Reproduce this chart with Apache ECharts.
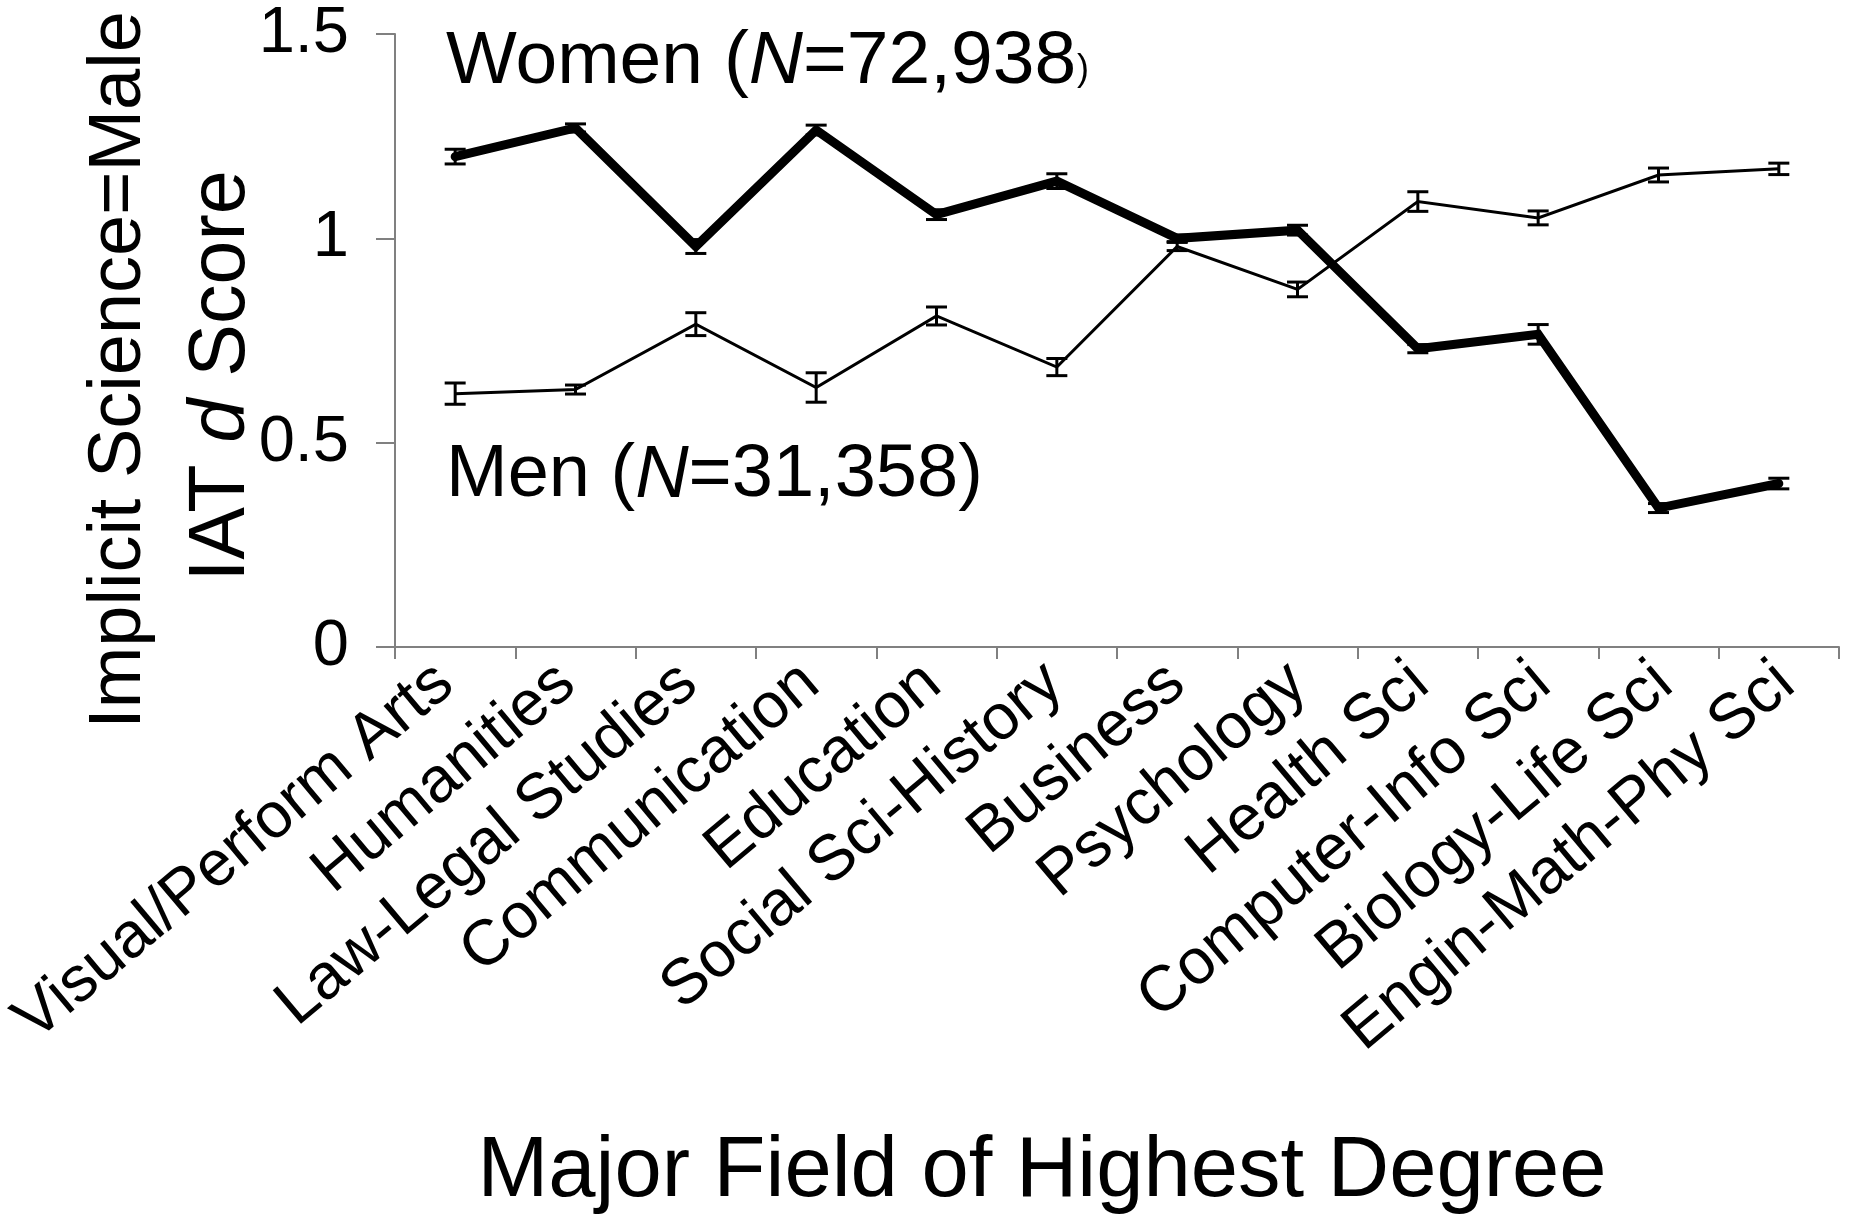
<!DOCTYPE html>
<html><head><meta charset="utf-8">
<script src="https://cdn.jsdelivr.net/npm/echarts@6/dist/echarts.min.js"></script>
<style>html,body{margin:0;padding:0;background:#fff}#c{width:1851px;height:1216px}</style>
</head><body><div id="c"></div>
<script>
const categories = ['Visual/Perform Arts','Humanities','Law-Legal Studies','Communication','Education','Social Sci-History','Business','Psychology','Health Sci','Computer-Info Sci','Biology-Life Sci','Engin-Math-Phy Sci'];
const womenValues = [1.20, 1.27, 0.98, 1.265, 1.058, 1.14, 1.00, 1.02, 0.73, 0.765, 0.34, 0.40];
const womenErrors = [0.018, 0.010, 0.017, 0.012, 0.012, 0.018, 0.008, 0.012, 0.010, 0.024, 0.011, 0.013];
const menValues = [0.62, 0.63, 0.79, 0.635, 0.81, 0.685, 0.98, 0.875, 1.09, 1.05, 1.155, 1.17];
const menErrors = [0.026, 0.011, 0.028, 0.036, 0.022, 0.021, 0.010, 0.018, 0.024, 0.017, 0.017, 0.014];
const yTicks = [0, 0.5, 1, 1.5];

const FF = '"Liberation Sans", Arial, sans-serif';
const chart = echarts.init(document.getElementById('c'), null, {renderer: 'canvas'});

function errRenderer(params, api) {
  const i = api.value(0), v = api.value(1), e = api.value(2);
  const top = api.coord([i, v + e]);
  const bot = api.coord([i, v - e]);
  const hw = 10.5;
  const st = {stroke: '#000', lineWidth: 3};
  return {type: 'group', children: [
    {type: 'line', shape: {x1: top[0], y1: top[1], x2: bot[0], y2: bot[1]}, style: st},
    {type: 'line', shape: {x1: top[0] - hw, y1: top[1], x2: top[0] + hw, y2: top[1]}, style: st},
    {type: 'line', shape: {x1: bot[0] - hw, y1: bot[1], x2: bot[0] + hw, y2: bot[1]}, style: st}
  ]};
}

const option = {
  backgroundColor: '#fff',
  animation: false,
  grid: [
    {left: 395, right: 12, top: 34, bottom: 569, containLabel: false},
    {left: 388, right: -39, top: 34, bottom: 569, containLabel: false}
  ],
  xAxis: [{
    type: 'category',
    gridIndex: 0,
    data: categories,
    boundaryGap: true,
    axisLine: {lineStyle: {color: '#808080', width: 2}},
    axisTick: {show: true, length: 12, alignWithLabel: false, interval: 0, lineStyle: {color: '#808080', width: 2}},
    axisLabel: {show: false}
  }, {
    type: 'category',
    gridIndex: 1,
    data: categories,
    boundaryGap: true,
    axisLine: {show: false},
    axisTick: {show: false},
    axisLabel: {interval: 0, rotate: 40, margin: 25, color: '#000', fontSize: 64, fontFamily: FF, padding: [0, 5, 0, 0]}
  }],
  yAxis: [{
    type: 'value',
    gridIndex: 0,
    min: yTicks[0], max: yTicks[yTicks.length - 1], interval: 0.5,
    axisLine: {show: true, lineStyle: {color: '#808080', width: 2}},
    axisTick: {show: true, length: 19, lineStyle: {color: '#808080', width: 2}},
    splitLine: {show: false},
    axisLabel: {margin: 46, color: '#000', fontSize: 65, fontFamily: FF, formatter: v => String(v)}
  }, {
    type: 'value', gridIndex: 1, min: 0, max: 1.5, show: false
  }],
  graphic: [
    {type: 'text', x: 120, y: 370, rotation: Math.PI / 2,
      style: {text: 'Implicit Science=Male', fill: '#000', font: '74px ' + FF, align: 'center', verticalAlign: 'middle'}},
    {type: 'text', x: 222, y: 376, rotation: Math.PI / 2,
      style: {text: 'IAT {i|d} Score', fill: '#000', font: '79px ' + FF, align: 'center', verticalAlign: 'middle',
        rich: {i: {fontStyle: 'italic', fontSize: 79, fontFamily: FF}}}},
    {type: 'text', x: 446, y: 62,
      style: {text: '{a|Women (}{i|N}{a|=72,938}', fill: '#000', align: 'left', verticalAlign: 'middle',
        rich: {a: {fontSize: 75, fontFamily: FF}, i: {fontSize: 75, fontStyle: 'italic', fontFamily: FF}}}},
    {type: 'text', x: 1077, y: 70,
      style: {text: ')', fill: '#000', font: '36px ' + FF, align: 'left', verticalAlign: 'middle'}},
    {type: 'text', x: 446, y: 476,
      style: {text: '{a|Men (}{i|N}{a|=31,358)}', fill: '#000', align: 'left', verticalAlign: 'middle',
        rich: {a: {fontSize: 74, fontFamily: FF}, i: {fontSize: 74, fontStyle: 'italic', fontFamily: FF}}}},
    {type: 'text', x: 1042, y: 1173,
      style: {text: 'Major Field of Highest Degree', fill: '#000', font: '85px ' + FF, align: 'center', verticalAlign: 'middle'}}
  ],
  series: [
    {name: 'Men err', type: 'custom', renderItem: errRenderer, z: 2, xAxisIndex: 0, yAxisIndex: 0,
      encode: {x: 0, y: 1},
      data: categories.map((c, i) => [i, menValues[i], menErrors[i]])},
    {name: 'Women err', type: 'custom', renderItem: errRenderer, z: 2, xAxisIndex: 0, yAxisIndex: 0,
      encode: {x: 0, y: 1},
      data: categories.map((c, i) => [i, womenValues[i], womenErrors[i]])},
    {name: 'Men', type: 'line', data: menValues, showSymbol: false, symbol: 'none', z: 3, xAxisIndex: 0, yAxisIndex: 0,
      lineStyle: {color: '#000', width: 3, join: 'miter'}},
    {name: 'Women', type: 'line', data: womenValues, showSymbol: false, symbol: 'none', z: 4, xAxisIndex: 0, yAxisIndex: 0,
      lineStyle: {color: '#000', width: 9, cap: 'round', join: 'miter'}}
  ]
};
chart.setOption(option);
</script></body></html>
